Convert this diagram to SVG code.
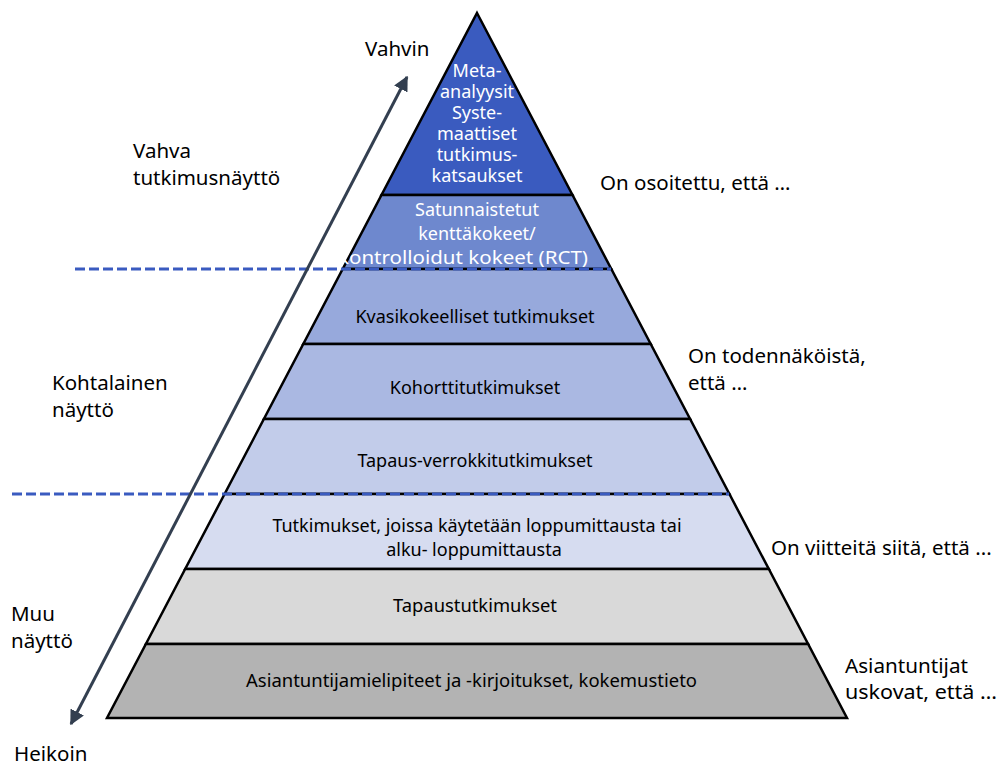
<svg xmlns="http://www.w3.org/2000/svg" width="1000" height="765" viewBox="0 0 1000 765">
<defs>
<style>
.lay{stroke:#000;stroke-width:2.5;stroke-linejoin:miter}
.t{font-family:"Noto Sans","Open Sans",sans-serif;font-size:18px;fill:#000;text-anchor:middle}
.w{font-family:"Noto Sans","Open Sans",sans-serif;font-size:18px;fill:#fff;text-anchor:middle}
.lbl{font-family:"Noto Sans","Open Sans",sans-serif;font-size:20.5px;fill:#000}
.dash{stroke:#3A5BC0;stroke-width:3;stroke-dasharray:10 4;fill:none}
</style>
<marker id="ah" viewBox="0 0 10 10" refX="9" refY="5" markerWidth="5" markerHeight="5" orient="auto-start-reverse" markerUnits="strokeWidth">
<path d="M0,0 L10,5 L0,10 z" fill="#333F50"/>
</marker>
</defs>
<rect width="1000" height="765" fill="#fff"/>

<g id="layer1"><polygon class="lay" fill="#3A5BBF" points="477,13 572.5,195 381.5,195"/>
<text class="w" x="477" y="77">Meta-</text><text class="w" x="477" y="98">analyysit</text><text class="w" x="477" y="119">Syste-</text><text class="w" x="477" y="140">maattiset</text><text class="w" x="477" y="161">tutkimus-</text><text class="w" x="477" y="182">katsaukset</text></g>
<g id="layer2"><polygon class="lay" fill="#6E88CE" points="381.5,195 572.5,195 611.3,269 342.7,269"/>
<text class="w" x="477" y="216">Satunnaistetut</text><text class="w" x="477" y="240">kenttäkokeet/</text><text class="w" x="463" y="264" textLength="250" lengthAdjust="spacingAndGlyphs">kontrolloidut kokeet (RCT)</text></g>
<g id="layer3"><polygon class="lay" fill="#97A9DC" points="342.7,269 611.3,269 650.7,344 303.3,344"/>
<text class="t" x="475" y="323">Kvasikokeelliset tutkimukset</text></g>
<g id="layer4"><polygon class="lay" fill="#AAB8E2" points="303.3,344 650.7,344 690.1,419 263.9,419"/>
<text class="t" x="475" y="394">Kohorttitutkimukset</text></g>
<g id="layer5"><polygon class="lay" fill="#C2CCEA" points="263.9,419 690.1,419 729.4,494 224.6,494"/>
<text class="t" x="475" y="467">Tapaus-verrokkitutkimukset</text></g>
<g id="layer6"><polygon class="lay" fill="#D6DCF0" points="224.6,494 729.4,494 768.8,569 185.2,569"/>
<text class="t" x="477" y="532">Tutkimukset, joissa käytetään loppumittausta tai</text><text class="t" x="474" y="556">alku- loppumittausta</text></g>
<g id="layer7"><polygon class="lay" fill="#D9D9D9" points="185.2,569 768.8,569 808.1,644 145.9,644"/>
<text class="t" x="475" y="612" textLength="164" lengthAdjust="spacingAndGlyphs">Tapaustutkimukset</text></g>
<g id="layer8"><polygon class="lay" fill="#B3B3B3" points="145.9,644 808.1,644 847,718 107,718"/>
<text class="t" x="471.5" y="687" textLength="451" lengthAdjust="spacingAndGlyphs">Asiantuntijamielipiteet ja -kirjoitukset, kokemustieto</text></g>

<g id="connectors">
<line class="dash" x1="75" y1="269" x2="611" y2="269"/>
<line class="dash" x1="12" y1="494" x2="729" y2="494"/>
<line x1="71" y1="724" x2="407" y2="77" stroke="#333F50" stroke-width="3" marker-start="url(#ah)" marker-end="url(#ah)"/>
</g>

<g id="labels">
<text class="lbl" x="365" y="56">Vahvin</text>
<text class="lbl" x="14" y="761">Heikoin</text>
<text class="lbl" x="133" y="158">Vahva</text><text class="lbl" x="133" y="185">tutkimusnäyttö</text>
<text class="lbl" x="52" y="390">Kohtalainen</text><text class="lbl" x="52" y="417">näyttö</text>
<text class="lbl" x="11" y="621">Muu</text><text class="lbl" x="11" y="648">näyttö</text>
<text class="lbl" x="600" y="190">On osoitettu, että …</text>
<text class="lbl" x="688" y="363">On todennäköistä,</text><text class="lbl" x="688" y="390">että …</text>
<text class="lbl" x="771" y="555">On viitteitä siitä, että ...</text>
<text class="lbl" x="845" y="673" textLength="123" lengthAdjust="spacingAndGlyphs">Asiantuntijat</text><text class="lbl" x="845" y="699" textLength="152" lengthAdjust="spacingAndGlyphs">uskovat, että …</text>
</g>
</svg>
